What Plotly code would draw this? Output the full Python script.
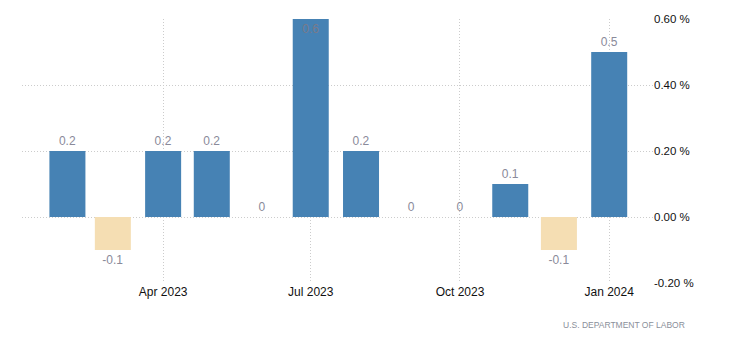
import plotly.graph_objects as go

months = ["2023-02-01", "2023-03-01", "2023-04-01", "2023-05-01", "2023-06-01", "2023-07-01",
          "2023-08-01", "2023-09-01", "2023-10-01", "2023-11-01", "2023-12-01", "2024-01-01"]
values = [0.2, -0.1, 0.2, 0.2, 0, 0.6, 0.2, 0, 0, 0.1, -0.1, 0.5]
labels = ["0.2", "-0.1", "0.2", "0.2", "0", "0.6", "0.2", "0", "0", "0.1", "-0.1", "0.5"]
y_ticks = [-0.2, 0.0, 0.2, 0.4, 0.6]
source = "U.S. DEPARTMENT OF LABOR"

POS = "#4682B4"
NEG = "#F5DEB3"
colors = [POS if v >= 0 else NEG for v in values]
positions = ["inside" if v >= 0.6 else "outside" for v in values]

DAY = 86400000
FONT = "Liberation Sans"

fig = go.Figure()
fig.add_trace(go.Bar(
    x=months, y=values, text=labels, textposition=positions,
    insidetextanchor="end",
    marker=dict(color=colors, line=dict(width=0)),
    width=[22.2 * DAY] * len(values),
    textfont=dict(family=FONT, size=12, color="#8a8a9a"),
    insidetextfont=dict(family=FONT, size=12, color="#7a7a8a"),
    outsidetextfont=dict(family=FONT, size=12, color="#8a8a9a"),
    cliponaxis=False,
    hoverinfo="skip",
))

fig.update_layout(
    width=730, height=351,
    margin=dict(l=22, r=77, t=19, b=68),
    paper_bgcolor="white", plot_bgcolor="white",
    showlegend=False,
    font=dict(family=FONT, size=12, color="#000"),
    xaxis=dict(
        type="date",
        range=["2023-01-04", "2024-01-28"],
        tick0="2023-01-01", dtick="M3", tickformat="%b %Y",
        showgrid=True, gridcolor="#cccccc", griddash="1px,2px", gridwidth=1,
        showline=False, zeroline=False, ticks="",
        tickfont=dict(family=FONT, size=12, color="#111"),
    ),
    yaxis=dict(
        side="right",
        range=[-0.2, 0.6],
        tickvals=y_ticks,
        ticktext=[f"{v:.2f} %" for v in y_ticks],
        showgrid=True, gridcolor="#cccccc", griddash="1px,2px", gridwidth=1,
        zeroline=False, showline=False, ticks="",
        tickfont=dict(family=FONT, size=11.5, color="#111"),
    ),
    annotations=[dict(
        text=source, xref="paper", yref="paper", x=1.054, y=-0.159,
        xanchor="right", yanchor="middle", showarrow=False,
        font=dict(family=FONT, size=8.5, color="#8a8f9a"),
    )],
)

fig.write_html("out.html")
